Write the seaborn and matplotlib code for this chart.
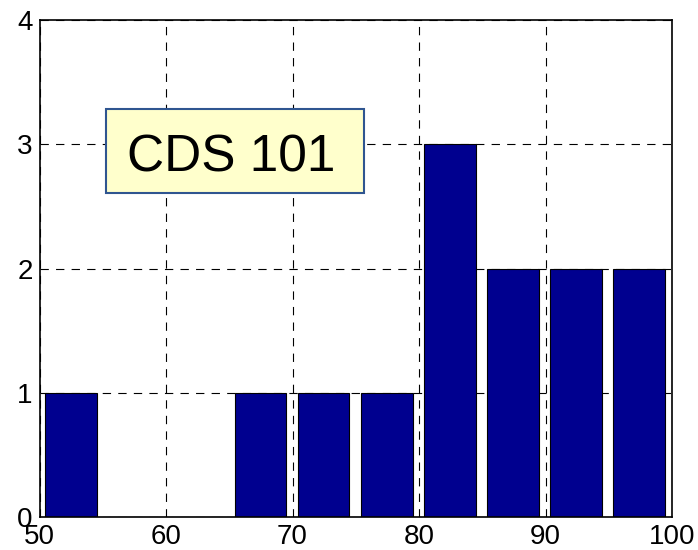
import numpy as np
import pandas as pd
import matplotlib
matplotlib.use("Agg")
import matplotlib.pyplot as plt
import seaborn as sns
from matplotlib.patches import Rectangle

# histogram of scores (10 bins, hist-style)
bin_lo = 50.0
bin_hi = 99.9
counts = [1, 0, 0, 1, 1, 1, 3, 2, 2, 2]
label = "CDS 101"

edges = np.linspace(bin_lo, bin_hi, len(counts) + 1)
centers = (edges[:-1] + edges[1:]) / 2
df = pd.DataFrame({"score": centers, "count": counts})

sns.set_style("white")
plt.rcParams["font.family"] = ["Liberation Sans", "DejaVu Sans"]
plt.rcParams["text.color"] = "black"
plt.rcParams["xtick.color"] = "black"
plt.rcParams["ytick.color"] = "black"

fig = plt.figure(figsize=(6.98, 5.5), dpi=100)
ax = fig.add_axes([0.0566, 0.06, 0.9062, 0.9036])

ax.grid(True, color="black", linestyle=(0, (7.5, 6.5)), linewidth=0.8)
ax.set_axisbelow(True)

sns.histplot(data=df, x="score", weights="count", bins=len(counts),
             binrange=(bin_lo, bin_hi), shrink=0.82,
             color="#00008f", edgecolor="black", linewidth=0.8, alpha=1,
             ax=ax)

ax.set_xlim(50, 100)
ax.set_ylim(0, 4)
ax.set_xticks([50, 60, 70, 80, 90, 100])
ax.set_yticks([0, 1, 2, 3, 4])
ax.set_xlabel("")
ax.set_ylabel("")
ax.tick_params(axis="both", direction="in", length=0, labelsize=20)
ax.tick_params(axis="y", pad=5)
ax.tick_params(axis="x", pad=5)
for s in ax.spines.values():
    s.set_color("black")
    s.set_linewidth(1.2)

# label box
ax.add_patch(Rectangle((55.26, 2.608), 20.39, 0.676, facecolor="#ffffcc",
                       edgecolor="#2f5590", linewidth=1.5, zorder=4))
ax.text(65.14, 2.779, label, fontsize=37, ha="center", va="baseline",
        color="black", zorder=5)

fig.savefig("out.png", dpi=100)
